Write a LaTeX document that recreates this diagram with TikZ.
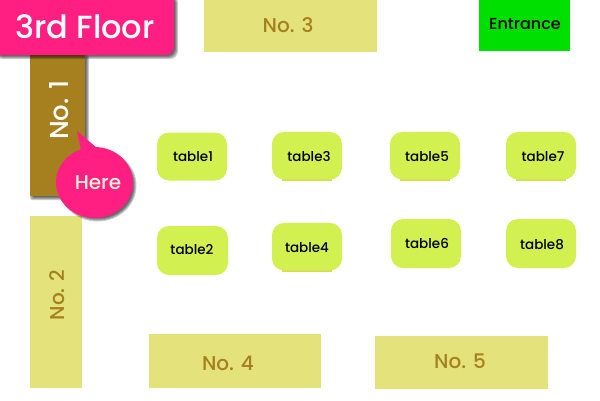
\documentclass[tikz,border=0pt]{standalone}
\usepackage{fontspec}
\setmainfont{Poppins Medium}
\usetikzlibrary{calc,shapes.geometric}
\definecolor{hotpink}{HTML}{FF1E82}
\definecolor{brownish}{HTML}{A67F1F}
\definecolor{palezone}{HTML}{E4E27A}
\definecolor{tablegreen}{HTML}{D2F050}
\definecolor{tablestrip}{HTML}{D8DC50}
\definecolor{entrancegreen}{HTML}{00E000}
\definecolor{herecream}{HTML}{FFF0D8}
\definecolor{zonetext}{HTML}{A67F1F}
\tikzset{
  zone/.style={fill=palezone,draw=none,inner sep=0pt,text=zonetext,font=\fontsize{20}{22}\selectfont},
  zonelabel/.style={text=zonetext,font=\fontsize{20}{22}\selectfont},
  tablebox/.style={fill=tablegreen,draw=none,rounded corners=12pt,minimum width=70pt,minimum height=49pt,inner sep=0pt},
  tablelabel/.style={font=\fontsize{13.5}{15}\selectfont,text=black},
  softshadow/.style={fill=black,fill opacity=0.2,draw=none}
}
\begin{document}
\begin{tikzpicture}[x=1pt,y=-1pt]
\useasboundingbox (0,0) rectangle (600,400);
% zones
\node[zone,minimum width=173pt,minimum height=52pt] (no3) at (290.5,26) {};
\node[zonelabel] at (288,25) {No. 3};
\node[zone,minimum width=52pt,minimum height=172pt] (no2) at (56,302) {};
\node[zonelabel,rotate=90] at (57,295) {No. 2};
\node[zone,minimum width=172pt,minimum height=54pt] (no4) at (235,361) {};
\node[zonelabel] at (228,363) {No. 4};
\node[zone,minimum width=173pt,minimum height=53pt] (no5) at (461.5,362.5) {};
\node[zonelabel] at (460,361) {No. 5};
\node[fill=entrancegreen,minimum width=91pt,minimum height=51pt,inner sep=0pt] (entrance) at (524.5,25.5) {};
\node[font=\fontsize{16}{18}\selectfont] at (525,24) {Entrance};
% tables
\fill[tablestrip] (282,178) rectangle (332,181);
\fill[tablestrip] (282,269) rectangle (332,272);
\fill[tablestrip] (400,178) rectangle (450,181);
\fill[tablestrip] (516,178) rectangle (566,181);
\node[tablebox,minimum height=48pt] (t1) at (192,156.5) {};
\node[tablebox,minimum width=71pt,minimum height=49pt] (t2) at (192.5,250.5) {};
\node[tablebox,minimum height=47.5pt] (t3) at (307,155.7) {};
\node[tablebox,minimum height=47.5pt] (t4) at (307,246.7) {};
\node[tablebox,minimum height=47.5pt] (t5) at (425,155.7) {};
\node[tablebox] (t6) at (426,243.5) {};
\node[tablebox,minimum height=47.5pt] (t7) at (541,155.7) {};
\node[tablebox] (t8) at (541,243.5) {};
\node[tablelabel] at (193,157) {table1};
\node[tablelabel] at (192,250) {table2};
\node[tablelabel] at (309,157) {table3};
\node[tablelabel] at (307,248) {table4};
\node[tablelabel] at (427,157) {table5};
\node[tablelabel] at (427,244) {table6};
\node[tablelabel] at (543,157) {table7};
\node[tablelabel] at (542,245) {table8};
% No. 1 shadow and box
\foreach \g in {0,1,2,3}{
  \fill[softshadow,rounded corners=2pt] (33-\g,58-\g) rectangle (86+\g,197+\g);
}
\node[fill=brownish,minimum width=55pt,minimum height=141pt,inner sep=0pt] (no1) at (57.5,125.5) {};
\node[rotate=90,text=white,font=\fontsize{26}{28}\selectfont] at (59,110) {No. 1};
% banner
\foreach \g in {0,1,2,3}{
  \fill[softshadow,rounded corners=8pt] (-5,-5) rectangle (175+\g,56+\g);
}
\fill[hotpink,rounded corners=8pt] (-12,-12) rectangle (174,55);
\node[text=white,font=\fontsize{32}{34}\selectfont] (floor) at (85,27) {3rd Floor};
% callout
\foreach \g in {0,1,2,3}{
  \fill[softshadow] (97.5,185.5) ellipse [x radius=36+\g,y radius=33+\g];
}
\fill[hotpink] (77,131) -- (97,148) -- (81,150) -- cycle;
\node[ellipse,fill=hotpink,minimum width=77pt,minimum height=71pt,inner sep=0pt] (here) at (94.5,182.5) {};
\node[text=herecream,font=\fontsize{20}{22}\selectfont] at (98,183) {Here};
\end{tikzpicture}
\end{document}
